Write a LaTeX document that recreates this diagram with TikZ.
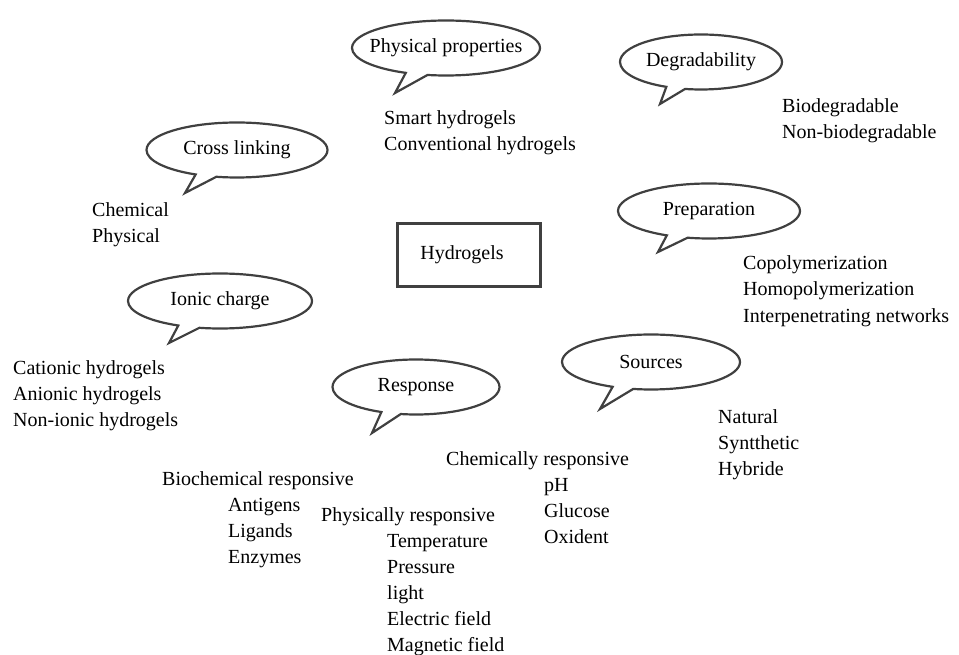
\documentclass[tikz,border=0pt]{standalone}
\usepackage{fontspec}
\setmainfont{Liberation Serif}
\usetikzlibrary{shapes.callouts}

\tikzset{
  bubble/.style={ellipse callout, draw=black!75, line width=2.2pt, fill=white,
    inner sep=0pt, minimum height=55pt, callout pointer arc=14},
  item/.style={anchor=base west, inner sep=0pt},
  mainbox/.style={draw=black!75, line width=2.4pt, fill=white, minimum width=143pt, minimum height=63pt}
}

\begin{document}
\begin{tikzpicture}[x=1pt, y=-1pt, every node/.style={font=\fontsize{20}{24}\selectfont}]
\useasboundingbox (0,0) rectangle (959,655);

% centre
\node[mainbox] (hydro) at (469,255) {Hydrogels\hspace*{14pt}};

% bubbles
\node[bubble, minimum width=188pt, inner xsep=-10pt, callout absolute pointer={(395,93)}] (phys) at (446,48) {Physical properties};
\node[bubble, minimum width=162pt, callout absolute pointer={(660,104)}] (degr) at (701,62) {Degradability};
\node[bubble, minimum width=181pt, callout absolute pointer={(185,193)}] (cross) at (237,150) {Cross linking};
\node[bubble, minimum width=182pt, callout absolute pointer={(658,252)}] (prep) at (709,211) {Preparation};
\node[bubble, minimum width=184pt, callout absolute pointer={(169,343)}] (ionic) at (220,301) {Ionic charge};
\node[bubble, minimum width=167pt, callout absolute pointer={(372,433)}] (resp) at (416,387) {Response};
\node[bubble, minimum width=178pt, callout absolute pointer={(600,409)}] (src) at (651,362) {Sources};

% lists
\foreach \t [count=\i from 0] in {Smart hydrogels, Conventional hydrogels}
  \node[item] (phys-\i) at (384,125+26*\i) {\t};
\foreach \t [count=\i from 0] in {Biodegradable, Non-biodegradable}
  \node[item] (degr-\i) at (782,113+26*\i) {\t};
\foreach \t [count=\i from 0] in {Chemical, Physical}
  \node[item] (cross-\i) at (92,217+26*\i) {\t};
\foreach \t [count=\i from 0] in {Copolymerization, Homopolymerization, Interpenetrating networks}
  \node[item] (prep-\i) at (743,270+26*\i) {\t};
\foreach \t [count=\i from 0] in {Cationic hydrogels, Anionic hydrogels, Non-ionic hydrogels}
  \node[item] (ionic-\i) at (13,374+26*\i) {\t};
\foreach \t [count=\i from 0] in {Natural, Syntthetic, Hybride}
  \node[item] (src-\i) at (718,423+26*\i) {\t};

\node[item] (chem) at (446,465) {Chemically responsive};
\foreach \t [count=\i from 0] in {pH, Glucose, Oxident}
  \node[item] (chem-\i) at (544,491+26*\i) {\t};
\node[item] (bio) at (162,485) {Biochemical responsive};
\foreach \t [count=\i from 0] in {Antigens, Ligands, Enzymes}
  \node[item] (bio-\i) at (228,511+26*\i) {\t};
\node[item] (physr) at (321,521) {Physically responsive};
\foreach \t [count=\i from 0] in {Temperature, Pressure, light, Electric field, Magnetic field}
  \node[item] (physr-\i) at (387,547+26*\i) {\t};

\end{tikzpicture}
\end{document}
